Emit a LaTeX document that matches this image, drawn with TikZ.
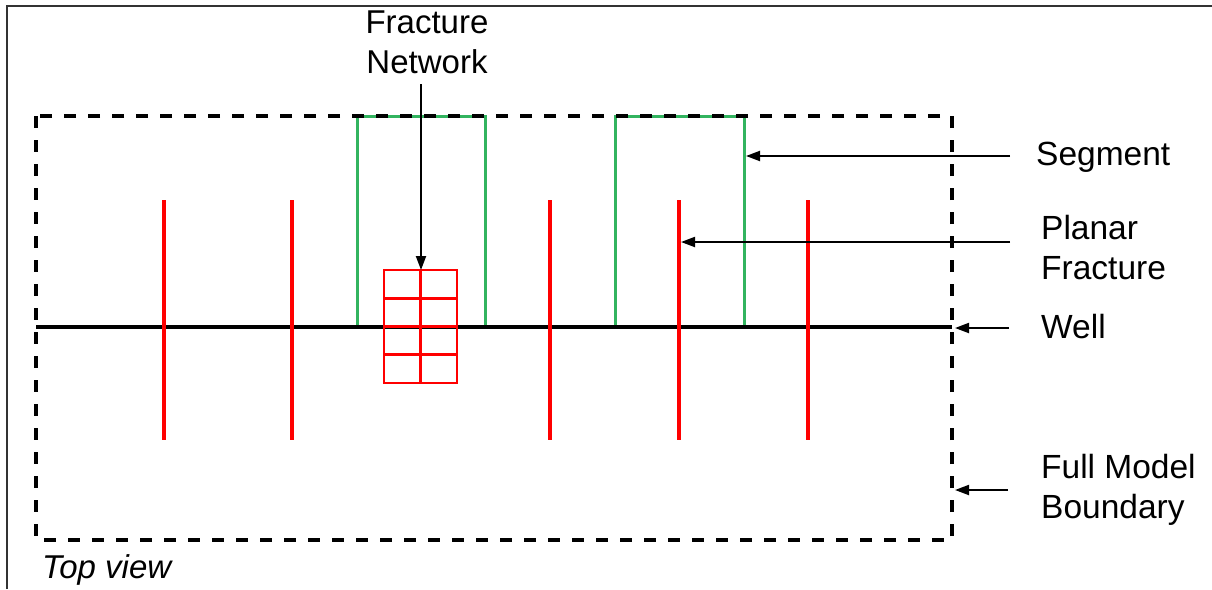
\documentclass[tikz,border=0pt]{standalone}
\usepackage{fontspec}
\setmainfont{Liberation Sans}
\usetikzlibrary{arrows.meta}
\definecolor{segGreen}{RGB}{50,180,95}
\begin{document}
\begin{tikzpicture}[x=1pt,y=-1pt,
  lbl/.style={font=\fontsize{33.5}{40}\selectfont, align=left, anchor=west, inner sep=0pt},
  ptr/.style={-{Triangle[length=14pt,width=10pt]}, line width=2pt},
  bound/.style={dashed, dash pattern=on 12pt off 12pt, line width=3.2pt},
  frac/.style={red, line width=3.2pt},
  seg/.style={segGreen, line width=3pt},
  net/.style={red, line width=2.6pt}]
\useasboundingbox (0,0) rectangle (1212,589);
% outer frame
\draw[line width=1.6pt, black!80] (7,589) -- (7,6) -- (1212,6);
% segments
\draw[seg] (357,116) rectangle (485,327);
\draw[seg] (615,116) rectangle (744,327);
% boundary
\draw[bound] (36,116) rectangle (952,540);
% well
\draw[line width=4.2pt] (36,327) -- (952,327);
% planar fractures
\foreach \x in {164,292,550,679,808} \draw[frac] (\x,200) -- (\x,440);
% fracture network
\draw[net] (384,270) rectangle (457,383);
\draw[net] (420.5,270) -- (420.5,383);
\foreach \y in {298.25,326.5,354.75} \draw[net] (384,\y) -- (457,\y);
% target coordinates
\coordinate (netTop) at (421,270);
\coordinate (segR) at (746,156);
\coordinate (fracP) at (681,242);
\coordinate (wellE) at (955,328);
\coordinate (bndE) at (955,490);
% labels
\node[font=\fontsize{33}{40}\selectfont, align=center, inner sep=0pt] (fn) at (427,42) {Fracture\\Network};
\node[lbl] (lseg) at (1036,157) {Segment};
\node[lbl] (lpf) at (1041,248) {Planar\\Fracture};
\node[lbl] (lwell) at (1041,327) {Well};
\node[lbl] (lbnd) at (1041,490) {Full Model\\Boundary};
\node[lbl, font=\fontsize{33}{36}\selectfont\itshape] (tv) at (42,570) {Top view};
% arrows
\coordinate (fnS) at (421,84);
\coordinate (a1) at (1010,156);
\coordinate (a2) at (1010,242);
\coordinate (a3) at (1009,328);
\coordinate (a4) at (1008,490);
\draw[ptr] (fnS) -- (netTop);
\draw[ptr] (a1) -- (segR);
\draw[ptr] (a2) -- (fracP);
\draw[ptr] (a3) -- (wellE);
\draw[ptr] (a4) -- (bndE);
\end{tikzpicture}
\end{document}
